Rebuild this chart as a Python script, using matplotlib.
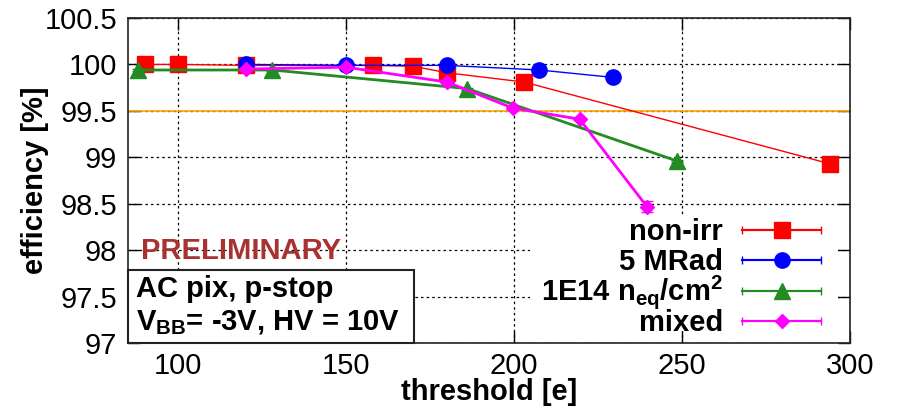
import numpy as np
import matplotlib
matplotlib.use("Agg")
import matplotlib.pyplot as plt
from matplotlib.patches import Rectangle
from matplotlib.container import ErrorbarContainer
from matplotlib.legend_handler import HandlerErrorbar
from matplotlib.ticker import MultipleLocator, FuncFormatter

plt.rcParams['font.family'] = ['Liberation Sans', 'DejaVu Sans']
plt.rcParams['mathtext.default'] = 'regular'

# efficiency vs threshold
thr_nonirr = [90, 100, 120, 158, 170, 180, 203, 294]
eff_nonirr = [100.0, 100.0, 99.99, 99.99, 99.98, 99.91, 99.81, 98.93]
err_nonirr = [0.01, 0.01, 0.01, 0.01, 0.01, 0.01, 0.01, 0.01]

thr_5mrad = [120, 150, 180, 207.5, 229.5]
eff_5mrad = [100.0, 99.99, 99.99, 99.94, 99.86]
err_5mrad = [0.01, 0.01, 0.01, 0.01, 0.01]

thr_neq = [88, 128, 186, 248.5]
eff_neq = [99.94, 99.94, 99.74, 98.96]
err_neq = [0.01, 0.01, 0.01, 0.01]

thr_mixed = [120, 150, 180, 199.6, 219.5, 239.5]
eff_mixed = [99.95, 99.97, 99.81, 99.53, 99.41, 98.47]
err_mixed = [0.01, 0.01, 0.01, 0.01, 0.01, 0.06]

labels = ['non-irr', '5 MRad', '1E14 n$_{eq}$/cm$^{2}$', 'mixed']
target_eff = 99.5


class KeyHandler(HandlerErrorbar):
    # tall handle boxes keep the rows evenly spaced; pull the marker
    # back down so it sits at mid text height
    def create_artists(self, legend, orig_handle, xdescent, ydescent,
                       width, height, fontsize, trans):
        return super().create_artists(legend, orig_handle, xdescent,
                                      ydescent + 0.4 * fontsize, width, height,
                                      fontsize, trans)


fig = plt.figure(figsize=(8.97, 4.08), dpi=100)
ax = fig.add_axes([128/897, 65/408, 722/897, 325/408])

series = [
    (thr_nonirr, eff_nonirr, err_nonirr, '#ff0000', 's', 12, 1.0),
    (thr_5mrad, eff_5mrad, err_5mrad, '#0000ff', 'o', 11, 1.0),
    (thr_neq, eff_neq, err_neq, '#228b22', '^', 11, 2.0),
    (thr_mixed, eff_mixed, err_mixed, '#ff00ff', 'D', 7.5, 2.0),
]

proxies = []
for i, (x, y, e, c, m, ms, lw) in enumerate(series):
    ax.errorbar(x, y, yerr=e, color=c, marker=m, markersize=ms, lw=lw,
                capsize=4.5, elinewidth=lw, zorder=2 + i * 0.1)
    # key entry drawn gnuplot-style, with horizontal bar and caps
    proxies.append(ax.errorbar([np.nan], [np.nan], xerr=[1], color=c, marker=m,
                               markersize=ms, lw=1.5, capsize=3))

ax.axhline(target_eff, color='#ffa500', lw=1.2, zorder=1.5)

ax.set_xlim(85, 300)
ax.set_ylim(97, 100.5)
ax.xaxis.set_major_locator(MultipleLocator(50))
ax.yaxis.set_major_locator(MultipleLocator(0.5))
ax.yaxis.set_major_formatter(FuncFormatter(lambda v, p: f'{v:g}'))

ax.set_axisbelow(True)
ax.grid(True, color='black', linestyle=(0, (2, 2.5)), lw=0.9)
ax.tick_params(direction='in', top=True, right=True, length=8.6, width=1,
               labelsize=21)
ax.tick_params(axis='x', pad=6.5)
ax.tick_params(axis='y', pad=8)
for s in ax.spines.values():
    s.set_linewidth(1.2)
    s.set_color('#222222')

ax.set_xlabel('threshold [e]', fontsize=21, fontweight='bold', labelpad=-1.5)
ax.set_ylabel('efficiency [%]', fontsize=21, fontweight='bold')
ax.yaxis.set_label_coords(-0.109, 0.5)

# opaque key area
ax.add_patch(Rectangle((0.557, 0.037), 0.4266, 0.351, transform=ax.transAxes,
                       facecolor='white', edgecolor='none', zorder=1))

leg = ax.legend(proxies, labels, loc='lower right', bbox_to_anchor=(0.96, -0.0034),
                markerfirst=False, frameon=False, handlelength=2.71,
                handleheight=2.0, handletextpad=0.65, labelspacing=-0.51,
                borderpad=0, borderaxespad=0,
                prop={'size': 21, 'weight': 'bold'},
                handler_map={ErrorbarContainer: KeyHandler(xerr_size=1.355)})

ax.text(0.0176, 0.2585, 'PRELIMINARY', transform=ax.transAxes, fontsize=21,
        fontweight='bold', color='#a83232', va='baseline', zorder=4)

ax.add_patch(Rectangle((0, 0), 0.396, 0.2246, transform=ax.transAxes,
                       facecolor='white', edgecolor='#222222', lw=1.5,
                       zorder=3, clip_on=False))
ax.text(0.011, 0.1415, 'AC pix, p-stop', transform=ax.transAxes, fontsize=21,
        fontweight='bold', va='baseline', zorder=4)
ax.text(0.011, 0.04, 'V$_{BB}$= -3V, HV = 10V', transform=ax.transAxes,
        fontsize=21, fontweight='bold', va='baseline', zorder=4)

fig.savefig('out.png', dpi=100)
